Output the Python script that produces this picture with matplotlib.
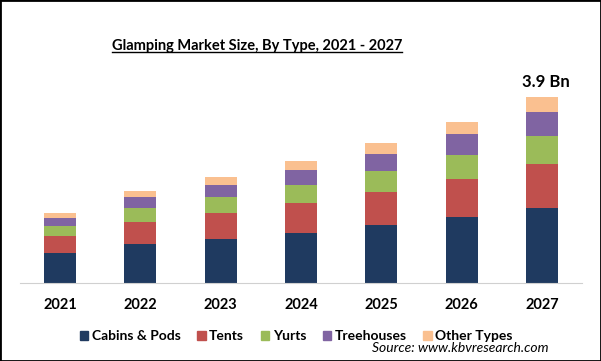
import matplotlib.pyplot as plt
import matplotlib.patches as mpatches
from matplotlib.lines import Line2D
import numpy as np

plt.rcParams['font.family'] = ['Lato', 'DejaVu Sans']

years = ['2021', '2022', '2023', '2024', '2025', '2026', '2027']
series = ['Cabins & Pods', 'Tents', 'Yurts', 'Treehouses', 'Other Types']
cabins = [0.63, 0.82, 0.92, 1.05, 1.22, 1.38, 1.57]
tents = [0.36, 0.46, 0.55, 0.63, 0.69, 0.80, 0.92]
yurts = [0.21, 0.29, 0.34, 0.38, 0.44, 0.50, 0.59]
treehouses = [0.17, 0.23, 0.25, 0.31, 0.36, 0.44, 0.50]
others = [0.10, 0.13, 0.17, 0.19, 0.23, 0.25, 0.31]
colors = ['#1f3a60', '#c0504d', '#9bbb59', '#8064a2', '#fac090']

fig = plt.figure(figsize=(6.01, 3.61), dpi=100)
ax = fig.add_axes([20 / 601, 1 - 283 / 361, 562 / 601, 198 / 361])

x = np.arange(len(years))
bottom = np.zeros(len(years))
for name, vals, c in zip(series, [cabins, tents, yurts, treehouses, others], colors):
    ax.bar(x, vals, width=0.4, bottom=bottom, color=c, label=name)
    bottom += np.array(vals)

ax.set_xlim(-0.5, 6.5)
ax.set_ylim(0, 4.15)
ax.set_yticks([])
ax.set_xticks(x)
ax.set_xticklabels(years, fontsize=10.5, fontweight='bold')
ax.tick_params(axis='x', length=0, pad=11)
for s in ['top', 'right', 'left']:
    ax.spines[s].set_visible(False)
ax.spines['bottom'].set_color('#d0d0d0')

ax.text(x[-1] + 0.05, bottom[-1] + 0.33, '3.9 Bn', ha='center', va='center',
        fontsize=12, fontweight='bold')

title = fig.text(0.428, 1 - 46 / 361, 'Glamping Market Size, By Type, 2021 - 2027',
                 ha='center', va='center', fontsize=10.5, fontweight='bold')
fig.canvas.draw()
bb = title.get_window_extent().transformed(fig.transFigure.inverted())
fig.add_artist(Line2D([bb.x0, bb.x1], [bb.y0 + 0.002, bb.y0 + 0.002],
                      color='black', lw=1, transform=fig.transFigure))

handles = [mpatches.Patch(color=c) for c in colors]
fig.legend(handles, series, loc='center', bbox_to_anchor=(0.493, 1 - 336 / 361),
           ncol=5, frameon=False, handlelength=0.6, handleheight=0.6,
           handletextpad=0.25, columnspacing=1.2,
           prop={'weight': 'bold', 'size': 10})

fig.text(549 / 601, 1 - 348 / 361, 'Source: www.kbvresearch.com', ha='right',
         va='center', fontsize=10, style='italic')

fig.add_artist(mpatches.Rectangle((0, 0), 1, 1, transform=fig.transFigure,
                                  fill=False, edgecolor='black', lw=2))

plt.savefig('out.png', dpi=100)
